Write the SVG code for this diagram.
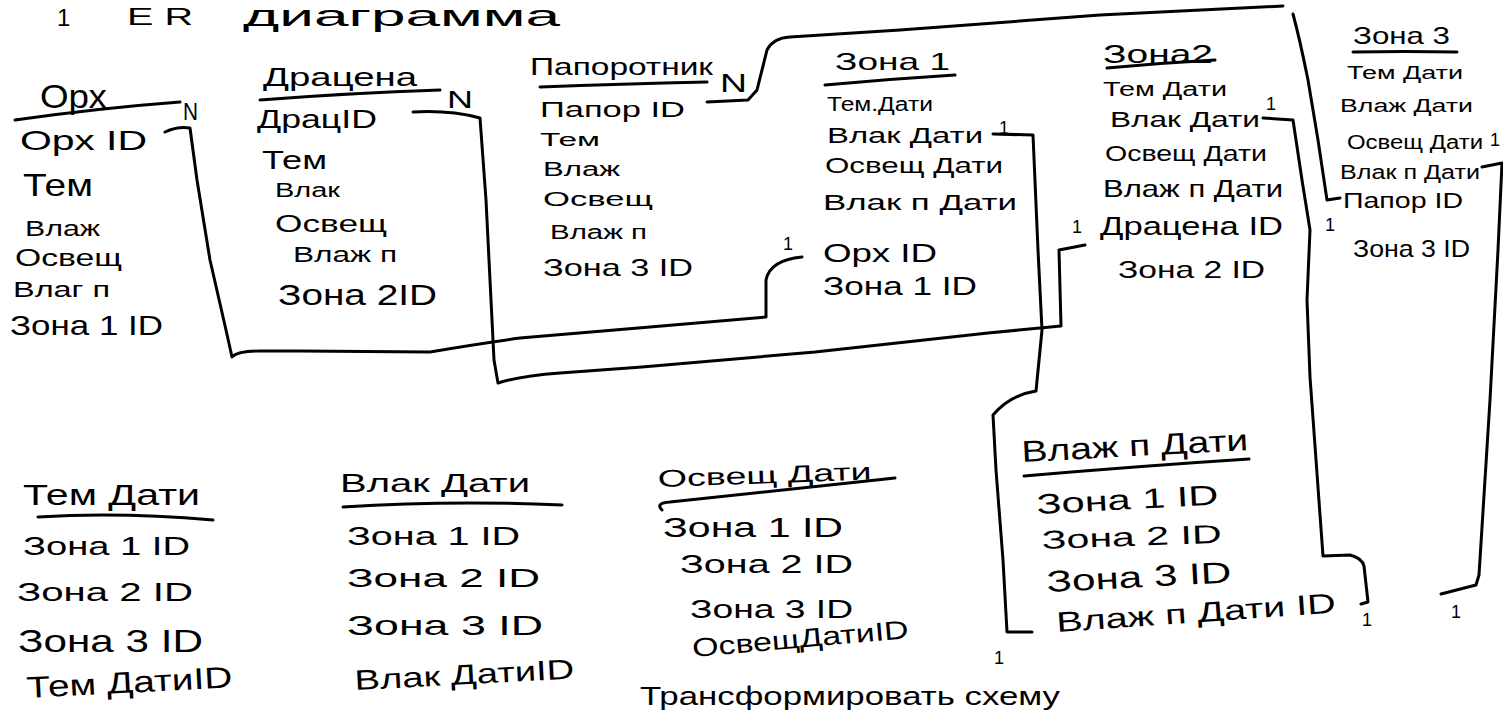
<svg xmlns="http://www.w3.org/2000/svg" width="1503" height="711" viewBox="0 0 1503 711">
<style>
  text { font-family: "Liberation Sans", "DejaVu Sans", sans-serif; fill: #000; }
  .ul { fill: none; stroke: #000; stroke-width: 3; stroke-linecap: round; }
  .cn { fill: none; stroke: #000; stroke-width: 3; stroke-linecap: round; stroke-linejoin: round; }
  .card { font-size: 18px; }
</style>
<rect x="0" y="0" width="1503" height="711" fill="#fff"/>

<g id="title">
  <text x="57" y="26" font-size="24">1</text>
  <text x="127" y="25" font-size="24" textLength="66" lengthAdjust="spacingAndGlyphs">E R</text>
  <text x="243" y="26" font-size="30" textLength="317" lengthAdjust="spacingAndGlyphs">диаграмма</text>
</g>

<g id="node-orh">
  <text x="40" y="108" font-size="34" textLength="67" lengthAdjust="spacingAndGlyphs">Орх</text>
  <path class="ul" d="M15,120 Q100,108 180,102"/>
  <text x="20" y="150" font-size="28" textLength="127" lengthAdjust="spacingAndGlyphs">Орх ID</text>
  <text x="23" y="196" font-size="32" textLength="70" lengthAdjust="spacingAndGlyphs">Тем</text>
  <text x="25" y="236" font-size="22" textLength="75" lengthAdjust="spacingAndGlyphs">Влаж</text>
  <text x="15" y="266" font-size="24" textLength="107" lengthAdjust="spacingAndGlyphs">Освещ</text>
  <text x="13" y="297" font-size="22" textLength="97" lengthAdjust="spacingAndGlyphs">Влаг п</text>
  <text x="10" y="335" font-size="28" textLength="153" lengthAdjust="spacingAndGlyphs">Зона 1 ID</text>
</g>

<g id="node-dracena">
  <text x="263" y="86" font-size="26" textLength="154" lengthAdjust="spacingAndGlyphs">Драцена</text>
  <path class="ul" d="M260,100 Q350,93 440,90"/>
  <text x="257" y="128" font-size="26" textLength="120" lengthAdjust="spacingAndGlyphs">ДрацID</text>
  <text x="262" y="169" font-size="26" textLength="65" lengthAdjust="spacingAndGlyphs">Тем</text>
  <text x="275" y="197" font-size="20" textLength="65" lengthAdjust="spacingAndGlyphs">Влак</text>
  <text x="275" y="232" font-size="24" textLength="112" lengthAdjust="spacingAndGlyphs">Освещ</text>
  <text x="293" y="262" font-size="22" textLength="104" lengthAdjust="spacingAndGlyphs">Влаж п</text>
  <text x="278" y="305" font-size="30" textLength="159" lengthAdjust="spacingAndGlyphs">Зона 2ID</text>
</g>

<g id="node-paporotnik">
  <text x="530" y="75" font-size="24" textLength="183" lengthAdjust="spacingAndGlyphs">Папоротник</text>
  <path class="ul" d="M540,87 Q620,84 707,82"/>
  <text x="540" y="117" font-size="22" textLength="145" lengthAdjust="spacingAndGlyphs">Папор ID</text>
  <text x="540" y="146" font-size="18" textLength="60" lengthAdjust="spacingAndGlyphs">Тем</text>
  <text x="543" y="176" font-size="20" textLength="77" lengthAdjust="spacingAndGlyphs">Влаж</text>
  <text x="543" y="206" font-size="20" textLength="110" lengthAdjust="spacingAndGlyphs">Освещ</text>
  <text x="550" y="239" font-size="20" textLength="97" lengthAdjust="spacingAndGlyphs">Влаж п</text>
  <text x="543" y="276" font-size="24" textLength="150" lengthAdjust="spacingAndGlyphs">Зона 3 ID</text>
</g>

<g id="node-zona1">
  <text x="835" y="70" font-size="24" textLength="115" lengthAdjust="spacingAndGlyphs">Зона 1</text>
  <path class="ul" d="M825,85 Q890,79 955,75"/>
  <text x="827" y="111" font-size="20" textLength="106" lengthAdjust="spacingAndGlyphs">Тем.Дати</text>
  <text x="827" y="143" font-size="22" textLength="156" lengthAdjust="spacingAndGlyphs">Влак Дати</text>
  <text x="825" y="173" font-size="22" textLength="178" lengthAdjust="spacingAndGlyphs">Освещ Дати</text>
  <text x="823" y="210" font-size="22" textLength="194" lengthAdjust="spacingAndGlyphs">Влак п Дати</text>
  <text x="823" y="262" font-size="26" textLength="114" lengthAdjust="spacingAndGlyphs">Орх ID</text>
  <text x="823" y="295" font-size="26" textLength="154" lengthAdjust="spacingAndGlyphs">Зона 1 ID</text>
</g>

<g id="node-zona2">
  <text x="1103" y="63" font-size="26" textLength="110" lengthAdjust="spacingAndGlyphs">Зона2</text>
  <path class="ul" d="M1107,68 Q1160,63 1215,60"/>
  <text x="1103" y="96" font-size="20" textLength="124" lengthAdjust="spacingAndGlyphs">Тем Дати</text>
  <text x="1110" y="127" font-size="22" textLength="150" lengthAdjust="spacingAndGlyphs">Влак Дати</text>
  <text x="1105" y="161" font-size="22" textLength="162" lengthAdjust="spacingAndGlyphs">Освещ Дати</text>
  <text x="1103" y="197" font-size="24" textLength="180" lengthAdjust="spacingAndGlyphs">Влаж п Дати</text>
  <text x="1100" y="235" font-size="26" textLength="183" lengthAdjust="spacingAndGlyphs">Драцена ID</text>
  <text x="1118" y="278" font-size="24" textLength="147" lengthAdjust="spacingAndGlyphs">Зона 2 ID</text>
</g>

<g id="node-zona3">
  <text x="1353" y="44" font-size="24" textLength="97" lengthAdjust="spacingAndGlyphs">Зона 3</text>
  <path class="ul" d="M1353,52 Q1405,51 1457,52"/>
  <text x="1347" y="79" font-size="18" textLength="116" lengthAdjust="spacingAndGlyphs">Тем Дати</text>
  <text x="1340" y="112" font-size="18" textLength="133" lengthAdjust="spacingAndGlyphs">Влаж Дати</text>
  <text x="1347" y="149" font-size="20" textLength="136" lengthAdjust="spacingAndGlyphs">Освещ Дати</text>
  <text x="1340" y="179" font-size="20" textLength="140" lengthAdjust="spacingAndGlyphs">Влак п Дати</text>
  <text x="1343" y="208" font-size="22" textLength="120" lengthAdjust="spacingAndGlyphs">Папор ID</text>
  <text x="1353" y="257" font-size="24" textLength="117" lengthAdjust="spacingAndGlyphs">Зона 3 ID</text>
</g>

<g id="node-tem-dati">
  <text x="23" y="505" font-size="30" textLength="177" lengthAdjust="spacingAndGlyphs">Тем Дати</text>
  <path class="ul" d="M38,517 Q120,512 213,520"/>
  <text x="23" y="555" font-size="26" textLength="167" lengthAdjust="spacingAndGlyphs">Зона 1 ID</text>
  <text x="17" y="601" font-size="26" textLength="176" lengthAdjust="spacingAndGlyphs">Зона 2 ID</text>
  <text x="18" y="652" font-size="32" textLength="185" lengthAdjust="spacingAndGlyphs">Зона 3 ID</text>
  <text x="27" y="698" font-size="30" textLength="206" lengthAdjust="spacingAndGlyphs" transform="rotate(-3 27 698)">Тем ДатиID</text>
</g>

<g id="node-vlak-dati">
  <text x="340" y="492" font-size="26" textLength="190" lengthAdjust="spacingAndGlyphs">Влак Дати</text>
  <path class="ul" d="M343,507 Q450,500 562,505"/>
  <text x="347" y="545" font-size="26" textLength="173" lengthAdjust="spacingAndGlyphs">Зона 1 ID</text>
  <text x="347" y="587" font-size="26" textLength="193" lengthAdjust="spacingAndGlyphs">Зона 2 ID</text>
  <text x="347" y="635" font-size="28" textLength="196" lengthAdjust="spacingAndGlyphs">Зона 3 ID</text>
  <text x="355" y="690" font-size="28" textLength="220" lengthAdjust="spacingAndGlyphs" transform="rotate(-3 355 690)">Влак ДатиID</text>
</g>

<g id="node-osvesh-dati">
  <text x="658" y="487" font-size="24" textLength="214" lengthAdjust="spacingAndGlyphs" transform="rotate(-2 658 487)">Освещ Дати</text>
  <path class="ul" d="M662,510 Q655,503 670,502 Q780,490 895,478"/>
  <text x="663" y="537" font-size="28" textLength="180" lengthAdjust="spacingAndGlyphs">Зона 1 ID</text>
  <text x="680" y="573" font-size="26" textLength="173" lengthAdjust="spacingAndGlyphs">Зона 2 ID</text>
  <text x="690" y="618" font-size="26" textLength="163" lengthAdjust="spacingAndGlyphs">Зона 3 ID</text>
  <text x="693" y="657" font-size="26" textLength="217" lengthAdjust="spacingAndGlyphs" transform="rotate(-5 693 657)">ОсвещДатиID</text>
</g>

<g id="node-vlazh-p-dati">
  <text x="1022" y="462" font-size="30" textLength="227" lengthAdjust="spacingAndGlyphs" transform="rotate(-3 1022 462)">Влаж п Дати</text>
  <path class="ul" d="M1024,476 Q1140,466 1249,459"/>
  <text x="1037" y="514" font-size="28" textLength="182" lengthAdjust="spacingAndGlyphs" transform="rotate(-3 1037 514)">Зона 1 ID</text>
  <text x="1042" y="549" font-size="26" textLength="180" lengthAdjust="spacingAndGlyphs" transform="rotate(-2 1042 549)">Зона 2 ID</text>
  <text x="1047" y="592" font-size="30" textLength="185" lengthAdjust="spacingAndGlyphs" transform="rotate(-3 1047 592)">Зона 3 ID</text>
  <text x="1057" y="632" font-size="28" textLength="280" lengthAdjust="spacingAndGlyphs" transform="rotate(-4 1057 632)">Влаж п Дати ID</text>
</g>

<g id="connectors">
  <path class="cn" d="M165,132 Q178,126 190,128 L197,180 L210,260 L226,330 L232,357 Q238,351 260,351 L300,351 L430,352 Q470,345 520,338 L650,327 L766,317 L766,280 Q770,260 802,257"/>
  <path class="cn" d="M413,112 Q450,110 480,118 L486,200 L491,300 L494,360 L498,383 Q520,376 560,373 L642,367 L815,352 L988,333 L1061,326 L1059,250 L1085,245"/>
  <path class="cn" d="M707,102 L748,100 L757,90 L767,50 Q773,38 790,37 L900,30 L1100,15 L1283,6"/>
  <path class="cn" d="M1293,14 Q1300,40 1308,80 L1318,140 L1327,200 L1340,198"/>
  <path class="cn" d="M993,134 L1033,135 L1038,250 L1042,330 L1036,391 Q1010,395 993,415 L996,470 L1003,560 L1007,632 L1032,632"/>
  <path class="cn" d="M1263,118 L1293,120 L1302,180 L1310,230 L1307,300 L1310,377 L1323,556 L1350,555 Q1362,558 1364,566 L1368,602 L1361,604"/>
  <path class="cn" d="M1482,167 L1502,163 L1498,250 L1490,400 L1479,575 L1476,585 L1441,594"/>
</g>

<g id="cardinalities">
  <text x="183" y="120" font-size="24" textLength="15" lengthAdjust="spacingAndGlyphs">N</text>
  <text x="447" y="108" font-size="24" textLength="26" lengthAdjust="spacingAndGlyphs">N</text>
  <text x="720" y="92" font-size="26" textLength="27" lengthAdjust="spacingAndGlyphs">N</text>
  <text class="card" x="783" y="250">1</text>
  <text class="card" x="999" y="134">1</text>
  <text class="card" x="1072" y="233">1</text>
  <text class="card" x="1266" y="110">1</text>
  <text class="card" x="1325" y="231">1</text>
  <text class="card" x="1490" y="146">1</text>
  <text class="card" x="1362" y="626">1</text>
  <text class="card" x="1451" y="618">1</text>
  <text class="card" x="994" y="664">1</text>
</g>

<g id="footer">
  <text x="640" y="705" font-size="26" textLength="420" lengthAdjust="spacingAndGlyphs">Трансформировать схему</text>
</g>
</svg>
